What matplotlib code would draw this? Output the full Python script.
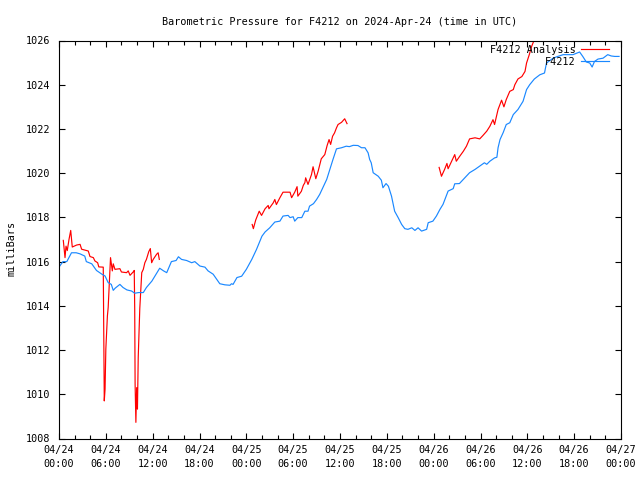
import numpy as np
import matplotlib
matplotlib.use("Agg")
import matplotlib.pyplot as plt

# hours since 04/24 00:00 UTC, pressure in millibars
obs_hours = [0.1, 0.5, 1.0, 1.6, 2.2, 2.7, 3.3, 3.5, 4.2, 4.4, 4.8, 5.5, 5.9, 6.3, 6.7,
             6.95, 7.2, 7.8, 8.2, 8.7, 9.3, 9.7, 10.2, 10.8, 11.2, 11.9, 12.3, 12.9, 13.4,
             13.8, 14.4, 15.0, 15.3, 15.7, 16.35, 17.0, 17.4, 18.05, 18.7, 19.1, 19.75,
             20.2, 20.6, 21.25, 21.9, 22.1, 22.3, 22.8, 23.4, 24.0, 24.7, 25.3, 25.7, 26.0,
             26.4, 27.0, 27.65, 28.3, 28.7, 29.35, 29.6, 30.0, 30.2, 30.6, 31.1, 31.5,
             31.9, 32.1, 32.6, 33.0, 33.4, 33.8, 34.3, 34.7, 35.1, 35.55, 36.2, 36.8, 37.2,
             37.7, 38.3, 38.75, 39.2, 39.6, 39.8, 40.0, 40.25, 40.9, 41.3, 41.5, 41.9,
             42.2, 42.6, 43.0, 43.45, 43.9, 44.3, 44.7, 45.2, 45.6, 46.0, 46.45, 47.1,
             47.3, 47.9, 48.35, 48.8, 49.2, 49.85, 50.5, 50.7, 51.3, 52.0, 52.6, 53.3,
             53.9, 54.5, 54.8, 55.2, 55.8, 56.1, 56.25, 56.5, 56.9, 57.3, 57.75, 58.2,
             58.8, 59.45, 59.9, 60.3, 60.9, 61.6, 62.2, 62.45, 63.3, 63.9, 64.6, 65.85,
             66.7, 67.1, 67.55, 68.0, 68.3, 68.6, 69.05, 69.7, 70.3, 70.75, 71.2, 71.75]
obs_mb = [1015.8, 1016.0, 1016.0, 1016.4, 1016.4, 1016.35, 1016.25, 1016.0, 1015.9, 1015.8,
          1015.6, 1015.43, 1015.35, 1015.05, 1014.97, 1014.7, 1014.8, 1014.97, 1014.83,
          1014.72, 1014.67, 1014.57, 1014.6, 1014.6, 1014.83, 1015.12, 1015.35, 1015.7,
          1015.58, 1015.5, 1016.0, 1016.05, 1016.22, 1016.1, 1016.05, 1015.95, 1016.0,
          1015.8, 1015.75, 1015.58, 1015.43, 1015.2, 1015.0, 1014.95, 1014.93, 1015.0,
          1014.97, 1015.28, 1015.34, 1015.65, 1016.1, 1016.55, 1016.9, 1017.15, 1017.34,
          1017.53, 1017.79, 1017.83, 1018.06, 1018.09, 1017.99, 1018.03, 1017.83, 1017.99,
          1017.99, 1018.28, 1018.28, 1018.51, 1018.62, 1018.81, 1019.04, 1019.34, 1019.72,
          1020.17, 1020.62, 1021.1, 1021.15, 1021.22, 1021.2, 1021.26, 1021.25, 1021.15,
          1021.15, 1020.92, 1020.62, 1020.47, 1020.02, 1019.86, 1019.68, 1019.34, 1019.53,
          1019.41, 1018.96, 1018.28, 1017.99, 1017.68, 1017.49, 1017.46, 1017.53, 1017.41,
          1017.53, 1017.38, 1017.46, 1017.76, 1017.83, 1018.06, 1018.36, 1018.59, 1019.19,
          1019.3, 1019.52, 1019.53, 1019.79, 1020.02, 1020.17, 1020.32, 1020.47, 1020.4,
          1020.54, 1020.69, 1020.72, 1021.15, 1021.52, 1021.83, 1022.2, 1022.28, 1022.65,
          1022.88, 1023.25, 1023.78, 1024.0, 1024.26, 1024.45, 1024.53, 1024.98, 1025.2,
          1025.28, 1025.36, 1025.36, 1025.48, 1025.28, 1025.03, 1024.98, 1024.8, 1025.05,
          1025.16, 1025.2, 1025.36, 1025.3, 1025.28, 1025.28]

# analysis: three separate runs
ana1_hours = [0.55, 0.77, 0.9, 1.06, 1.28, 1.5, 1.7, 2.26, 2.7, 2.9, 3.54, 3.75, 3.97, 4.4,
              4.6, 4.95, 5.1, 5.67, 5.8, 5.9, 6.0, 6.2, 6.3, 6.45, 6.6, 6.83, 6.95, 7.17,
              7.8, 8.0, 8.66, 8.87, 9.1, 9.5, 9.64, 9.7, 9.75, 9.85, 9.95, 10.05, 10.15,
              10.35, 10.6, 10.8, 11.0, 11.2, 11.5, 11.7, 11.87, 12.07, 12.5, 12.7, 12.85]
ana1_mb = [1016.96, 1016.18, 1016.7, 1016.5, 1017.0, 1017.41, 1016.66, 1016.75, 1016.78,
           1016.56, 1016.5, 1016.48, 1016.23, 1016.18, 1016.03, 1015.95, 1015.76, 1015.75,
           1009.7, 1010.23, 1012.04, 1013.54, 1013.92, 1015.05, 1016.18, 1015.58, 1015.9,
           1015.65, 1015.68, 1015.53, 1015.5, 1015.58, 1015.38, 1015.53, 1015.6, 1013.85,
           1010.46, 1008.73, 1010.3, 1009.33, 1011.67, 1013.88, 1015.5, 1015.65, 1015.95,
           1016.1, 1016.45, 1016.59, 1015.95, 1016.1, 1016.33, 1016.4, 1016.1]
ana2_hours = [24.75, 24.9, 25.2, 25.65, 25.95, 26.4, 26.8, 26.9, 27.45, 27.65, 27.85, 28.3,
              28.7, 29.6, 29.8, 30.2, 30.5, 30.6, 31.05, 31.3, 31.5, 31.6, 31.9, 32.35,
              32.55, 32.9, 33.2, 33.6, 34.05, 34.35, 34.6, 34.8, 35.05, 35.3, 35.55, 35.75,
              36.2, 36.6, 36.9]
ana2_mb = [1017.68, 1017.49, 1017.88, 1018.28, 1018.09, 1018.39, 1018.54, 1018.39, 1018.66,
           1018.81, 1018.58, 1018.89, 1019.14, 1019.14, 1018.89, 1019.14, 1019.39, 1018.96,
           1019.18, 1019.45, 1019.57, 1019.79, 1019.49, 1019.94, 1020.29, 1019.75, 1020.09,
           1020.65, 1020.84, 1021.25, 1021.52, 1021.3, 1021.67, 1021.82, 1022.05, 1022.2,
           1022.3, 1022.46, 1022.24]
ana3_hours = [48.7, 49.0, 49.4, 49.7, 49.85, 50.3, 50.7, 50.9, 51.35, 51.8, 52.2, 52.6, 53.3,
              53.9, 54.3, 54.8, 55.2, 55.6, 55.8, 56.0, 56.25, 56.7, 57.0, 57.3, 57.75,
              58.2, 58.4, 58.8, 59.3, 59.7, 59.9, 60.25, 60.55, 60.75, 61.0]
ana3_mb = [1020.26, 1019.86, 1020.17, 1020.44, 1020.2, 1020.54, 1020.84, 1020.54, 1020.77,
           1020.99, 1021.22, 1021.55, 1021.6, 1021.55, 1021.7, 1021.9, 1022.12, 1022.42,
           1022.2, 1022.5, 1022.88, 1023.3, 1023.0, 1023.33, 1023.7, 1023.78, 1024.0,
           1024.26, 1024.37, 1024.6, 1024.98, 1025.36, 1025.73, 1025.91, 1026.15]

tick_hours = list(range(0, 73, 6))
tick_labels = ["04/24\n00:00", "04/24\n06:00", "04/24\n12:00", "04/24\n18:00",
               "04/25\n00:00", "04/25\n06:00", "04/25\n12:00", "04/25\n18:00",
               "04/26\n00:00", "04/26\n06:00", "04/26\n12:00", "04/26\n18:00",
               "04/27\n00:00"]

RED = "#ff0000"
BLUE = "#1a88ff"
FS = 7.3
plt.rcParams["font.family"] = ["DejaVu Sans Mono"]

ana_hours = ana1_hours + [np.nan] + ana2_hours + [np.nan] + ana3_hours
ana_mb = ana1_mb + [np.nan] + ana2_mb + [np.nan] + ana3_mb

fig = plt.figure(figsize=(6.4, 4.8), dpi=100)
ax = fig.add_axes([59 / 640, 1 - 438.5 / 480, 562 / 640, 398 / 480])

ax.plot(ana_hours, ana_mb, color=RED, lw=0.85, label="F4212 Analysis")
ax.plot(obs_hours, obs_mb, color=BLUE, lw=0.85, label="F4212")

ax.set_xlim(0, 72)
ax.set_ylim(1008, 1026)
ax.set_xticks(tick_hours, tick_labels)
ax.set_xticks(range(0, 73, 2), minor=True)
ax.set_yticks(range(1008, 1027, 2))
for lbl in ax.get_xticklabels():
    lbl.set_linespacing(1.45)

ax.tick_params(which="both", direction="in", top=True, right=True,
               labelsize=FS, width=0.8, color="black")
ax.tick_params(which="major", length=4)
ax.tick_params(which="minor", length=3)
ax.tick_params(axis="x", pad=5)
ax.tick_params(axis="y", pad=6)
for sp in ax.spines.values():
    sp.set_linewidth(0.8)

ax.set_title("Barometric Pressure for F4212 on 2024-Apr-24 (time in UTC)",
             fontsize=FS, pad=11)
fig.text(12 / 640, 1 - 248 / 480, "milliBars", rotation=90, fontsize=FS,
         ha="center", va="center")

ax.legend(loc="upper right", bbox_to_anchor=((609 - 59) / 562, (438.5 - 45) / 398),
          frameon=False, markerfirst=False, fontsize=FS, handlelength=2.8,
          handletextpad=0.5, labelspacing=0.15, borderpad=0, borderaxespad=0)

fig.savefig("out.png", dpi=100)
